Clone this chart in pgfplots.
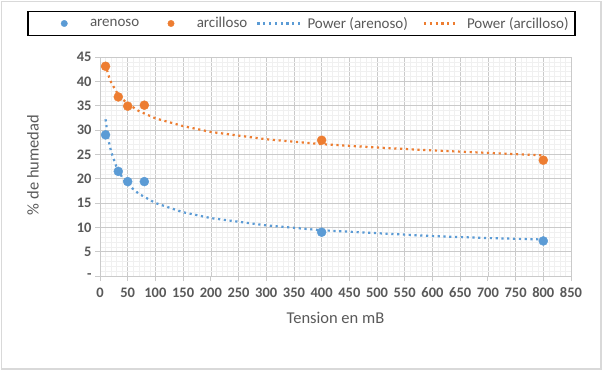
\documentclass[border=0pt]{standalone}
\usepackage{fontspec}
\setmainfont{Carlito}
\usepackage{pgfplots}
\pgfplotsset{compat=1.18}
\definecolor{cblue}{HTML}{5B9BD5}
\definecolor{corange}{HTML}{ED7D31}
\definecolor{tgray}{HTML}{595959}
\definecolor{majgrid}{HTML}{CACACA}
\definecolor{mingrid}{HTML}{F0F0F0}
\definecolor{framec}{HTML}{D9D9D9}
\pgfplotsset{
 legmarkA/.style={legend image code/.code={\path (0pt,0pt) (54pt,0pt); \draw[##1, mark size=3.2pt, line width=0.4pt] plot coordinates {(34pt,0pt)};}},
 legmarkB/.style={legend image code/.code={\path (0pt,0pt) (46pt,0pt); \draw[##1, mark size=3.2pt, line width=0.4pt] plot coordinates {(26pt,0pt)};}},
 leglineA/.style={legend image code/.code={\path (0pt,0pt) (48pt,0pt); \draw[##1] (4pt,0pt) -- (48pt,0pt);}},
 leglineB/.style={legend image code/.code={\path (0pt,0pt) (47pt,0pt); \draw[##1] (10pt,0pt) -- (43pt,0pt);}},
 trend/.style={line width=2.2pt, dash pattern=on 2.2pt off 3.6pt},
}
\begin{document}
\begin{tikzpicture}[x=1pt,y=1pt]
\useasboundingbox (0,0) rectangle (607,376);
\fill[white] (0,0) rectangle (607,376);
\draw[framec, line width=1.2pt] (1.5,7) rectangle (601,374.5);
\begin{axis}[
 at={(100pt,100pt)}, anchor=south west,
 scale only axis, width=471pt, height=219pt,
 xmin=0, xmax=850, ymin=0, ymax=45,
 axis lines=left, axis line style={-, majgrid, line width=0.8pt},
 xtick={0,50,...,850}, ytick={0,5,...,45},
 yticklabels={-,5,10,15,20,25,30,35,40,45},
 minor x tick num=4, minor y tick num=4,
 grid=both,
 major grid style={majgrid, line width=0.6pt},
 minor grid style={mingrid, line width=0.5pt},
 tick align=outside, major tick length=5pt, minor tick length=0pt,
 tick style={majgrid, line width=0.8pt},
 /pgf/number format/assume math mode=true,
 ticklabel style={font=\fontsize{14.5}{16}\selectfont\bfseries, text=tgray},
 xticklabel style={yshift=-3pt},
 xlabel={Tension en mB}, ylabel={\% de humedad},
 label style={font=\fontsize{16.5}{18}\selectfont, text=tgray},
 xlabel style={at={(axis description cs:0.5,-0.1918)}, anchor=center},
 ylabel style={at={(axis description cs:-0.1423,0.507)}, anchor=center},
 legend columns=4,
 legend style={at={(axis description cs:0.428,1.153)}, anchor=center,
   draw=black, line width=1.5pt, fill=white, inner xsep=1.5pt, inner ysep=2pt,
   font=\fontsize{15}{17}\selectfont, text=tgray,
   nodes={inner xsep=5pt, inner ysep=4pt}, /tikz/column sep=0pt},
]
\addplot[cblue, trend, forget plot] coordinates {
 (10,32.2) (15,28.1) (20,25.6) (30,22.3) (40,20.3) (50,18.8) (70,16.9) (100,15.0)
 (150,13.1) (200,11.9) (300,10.4) (400,9.4) (500,8.8) (600,8.2) (700,7.8) (800,7.5)};
\addplot[corange, trend, forget plot] coordinates {
 (10,43.5) (15,41.3) (20,39.8) (30,37.8) (40,36.4) (50,35.4) (70,33.9) (100,32.4)
 (150,30.8) (200,29.6) (300,28.1) (400,27.1) (500,26.4) (600,25.8) (700,25.3) (800,24.8)};
\addplot[only marks, mark=*, mark size=4.5pt, color=cblue, mark options={line width=0.4pt}, legmarkA]
 coordinates {(10,29.0) (33,21.5) (50,19.4) (80,19.4) (400,9.0) (800,7.2)};
\addlegendentry{arenoso}
\addplot[only marks, mark=*, mark size=4.5pt, color=corange, mark options={line width=0.4pt}, legmarkB]
 coordinates {(10,43.1) (33,36.8) (50,34.9) (80,35.1) (400,27.9) (800,23.8)};
\addlegendentry{arcilloso}
\addlegendimage{cblue, trend, leglineA}
\addlegendentry{Power (arenoso)}
\addlegendimage{corange, trend, leglineB}
\addlegendentry{Power (arcilloso)}
\end{axis}
\end{tikzpicture}
\end{document}
